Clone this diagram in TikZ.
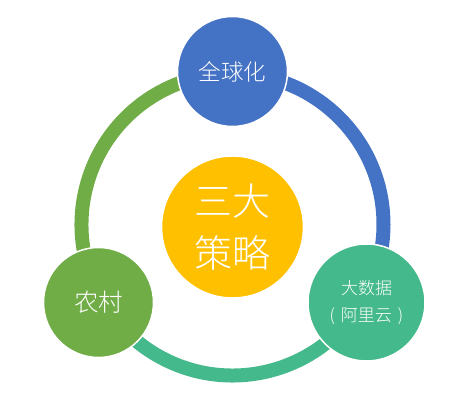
\documentclass[tikz,border=0pt]{standalone}
\usepackage{fontspec}
\newfontfamily\cjk{Noto Sans CJK SC}[UprightFont=* Light]
\definecolor{cblue}{HTML}{4472C4}
\definecolor{cgreen}{HTML}{70AD47}
\definecolor{cteal}{HTML}{44B98B}
\definecolor{cgold}{HTML}{FFC000}
\begin{document}
\begin{tikzpicture}[x=1pt,y=1pt,
  ring/.style={line width=14pt},
  bubble/.style={circle, draw=white, line width=1.5pt, inner sep=0pt, text=white, font=\cjk, align=center}]
\useasboundingbox (0,0) rectangle (466,406);
\fill[white] (0,0) rectangle (466,406);
\coordinate (ringc) at (232.5,181.5);
\draw[ring, cblue] (ringc) ++(90:151) arc[start angle=90, end angle=-30, radius=151];
\draw[ring, cteal] (ringc) ++(-30:151) arc[start angle=-30, end angle=-150, radius=151];
\draw[ring, cgreen] (ringc) ++(210:151) arc[start angle=210, end angle=90, radius=151];
\node[bubble, fill=cgold, minimum size=142pt, font=\cjk\fontsize{38}{48}\selectfont] (mid) at (232.5,179) {\raisebox{4pt}{三大}\\策略};
\node[bubble, fill=cblue, minimum size=110pt, font=\cjk\fontsize{22.5}{27}\selectfont] (top) at (232.5,334.5) {全球化};
\node[bubble, fill=cgreen, minimum size=110pt, font=\cjk\fontsize{24.5}{27}\selectfont] (left) at (98.5,103.5) {农村};
\node[bubble, fill=cteal, minimum size=117pt, font=\cjk\fontsize{17}{27}\selectfont] (right) at (366.5,103.5) {大数据\\(\hspace{6pt}阿里云\hspace{6pt})};
\end{tikzpicture}
\end{document}
